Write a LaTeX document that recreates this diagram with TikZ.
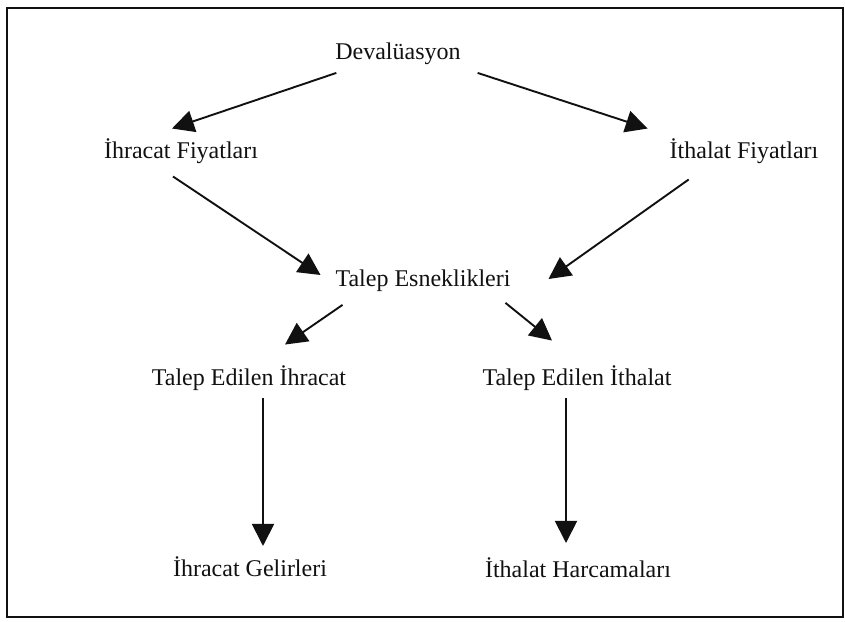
\documentclass[tikz,border=0pt]{standalone}
\usepackage{fontspec}
\setmainfont{Liberation Serif}
\usepackage{tikz}
\usetikzlibrary{positioning, arrows.meta}
\definecolor{ink}{HTML}{111111}
\tikzset{
  kavram/.style={inner sep=4pt, outer sep=4pt, text=ink,
                 font=\fontsize{24}{28}\selectfont},
  ok/.style={-{Triangle[length=22pt, width=22pt]}, line width=1.9pt, draw=ink},
}

\begin{document}
\begin{tikzpicture}[x=1pt, y=-1pt]
  \useasboundingbox (0,0) rectangle (845,621);
  % the frame
  \draw[ink, line width=2pt] (7,8) rectangle (843,617);
  % the concepts
  \node[kavram] (dev)  at (398,54)  {Devalüasyon};
  \node[kavram] (ihf)  at (181,151) {İhracat Fiyatları};
  \node[kavram] (ithf) at (744,151) {İthalat Fiyatları};
  \node[kavram] (tal)  at (423,281) {Talep Esneklikleri};
  \node[kavram] (tei)  at (249,378) {Talep Edilen İhracat};
  \node[kavram] (tit)  at (577,378) {Talep Edilen İthalat};
  \node[kavram] (ige)  at (250,567) {İhracat Gelirleri};
  \node[kavram] (iha)  at (578,568) {İthalat Harcamaları};
  % prices
  \draw[ok] ([xshift=9pt]dev.south west) -- ([xshift=-9pt, yshift=2pt]ihf.north);
  \draw[ok] ([xshift=9pt]dev.south east) -- ([xshift=-14pt, yshift=2pt]ithf.north west);
  % elasticities
  \draw[ok] ([xshift=-8pt, yshift=-5pt]ihf.south) -- ([xshift=-7pt, yshift=6pt]tal.west);
  \draw[ok] ([xshift=27pt, yshift=-8pt]ithf.south west) -- ([xshift=30pt, yshift=2pt]tal.east);
  \draw[ok] ([xshift=15pt, yshift=-5pt]tal.south west) -- ([xshift=36pt, yshift=13pt]tei.north);
  \draw[ok] ([xshift=-13pt, yshift=-3pt]tal.south east) -- ([xshift=-25pt, yshift=17pt]tit.north);
  % revenues and spending
  \draw[ok] ([xshift=14pt]tei.south) -- ([xshift=13pt, yshift=3pt]ige.north);
  \draw[ok] ([xshift=-11pt]tit.south) -- ([xshift=-12pt, yshift=7pt]iha.north);
\end{tikzpicture}
\end{document}
